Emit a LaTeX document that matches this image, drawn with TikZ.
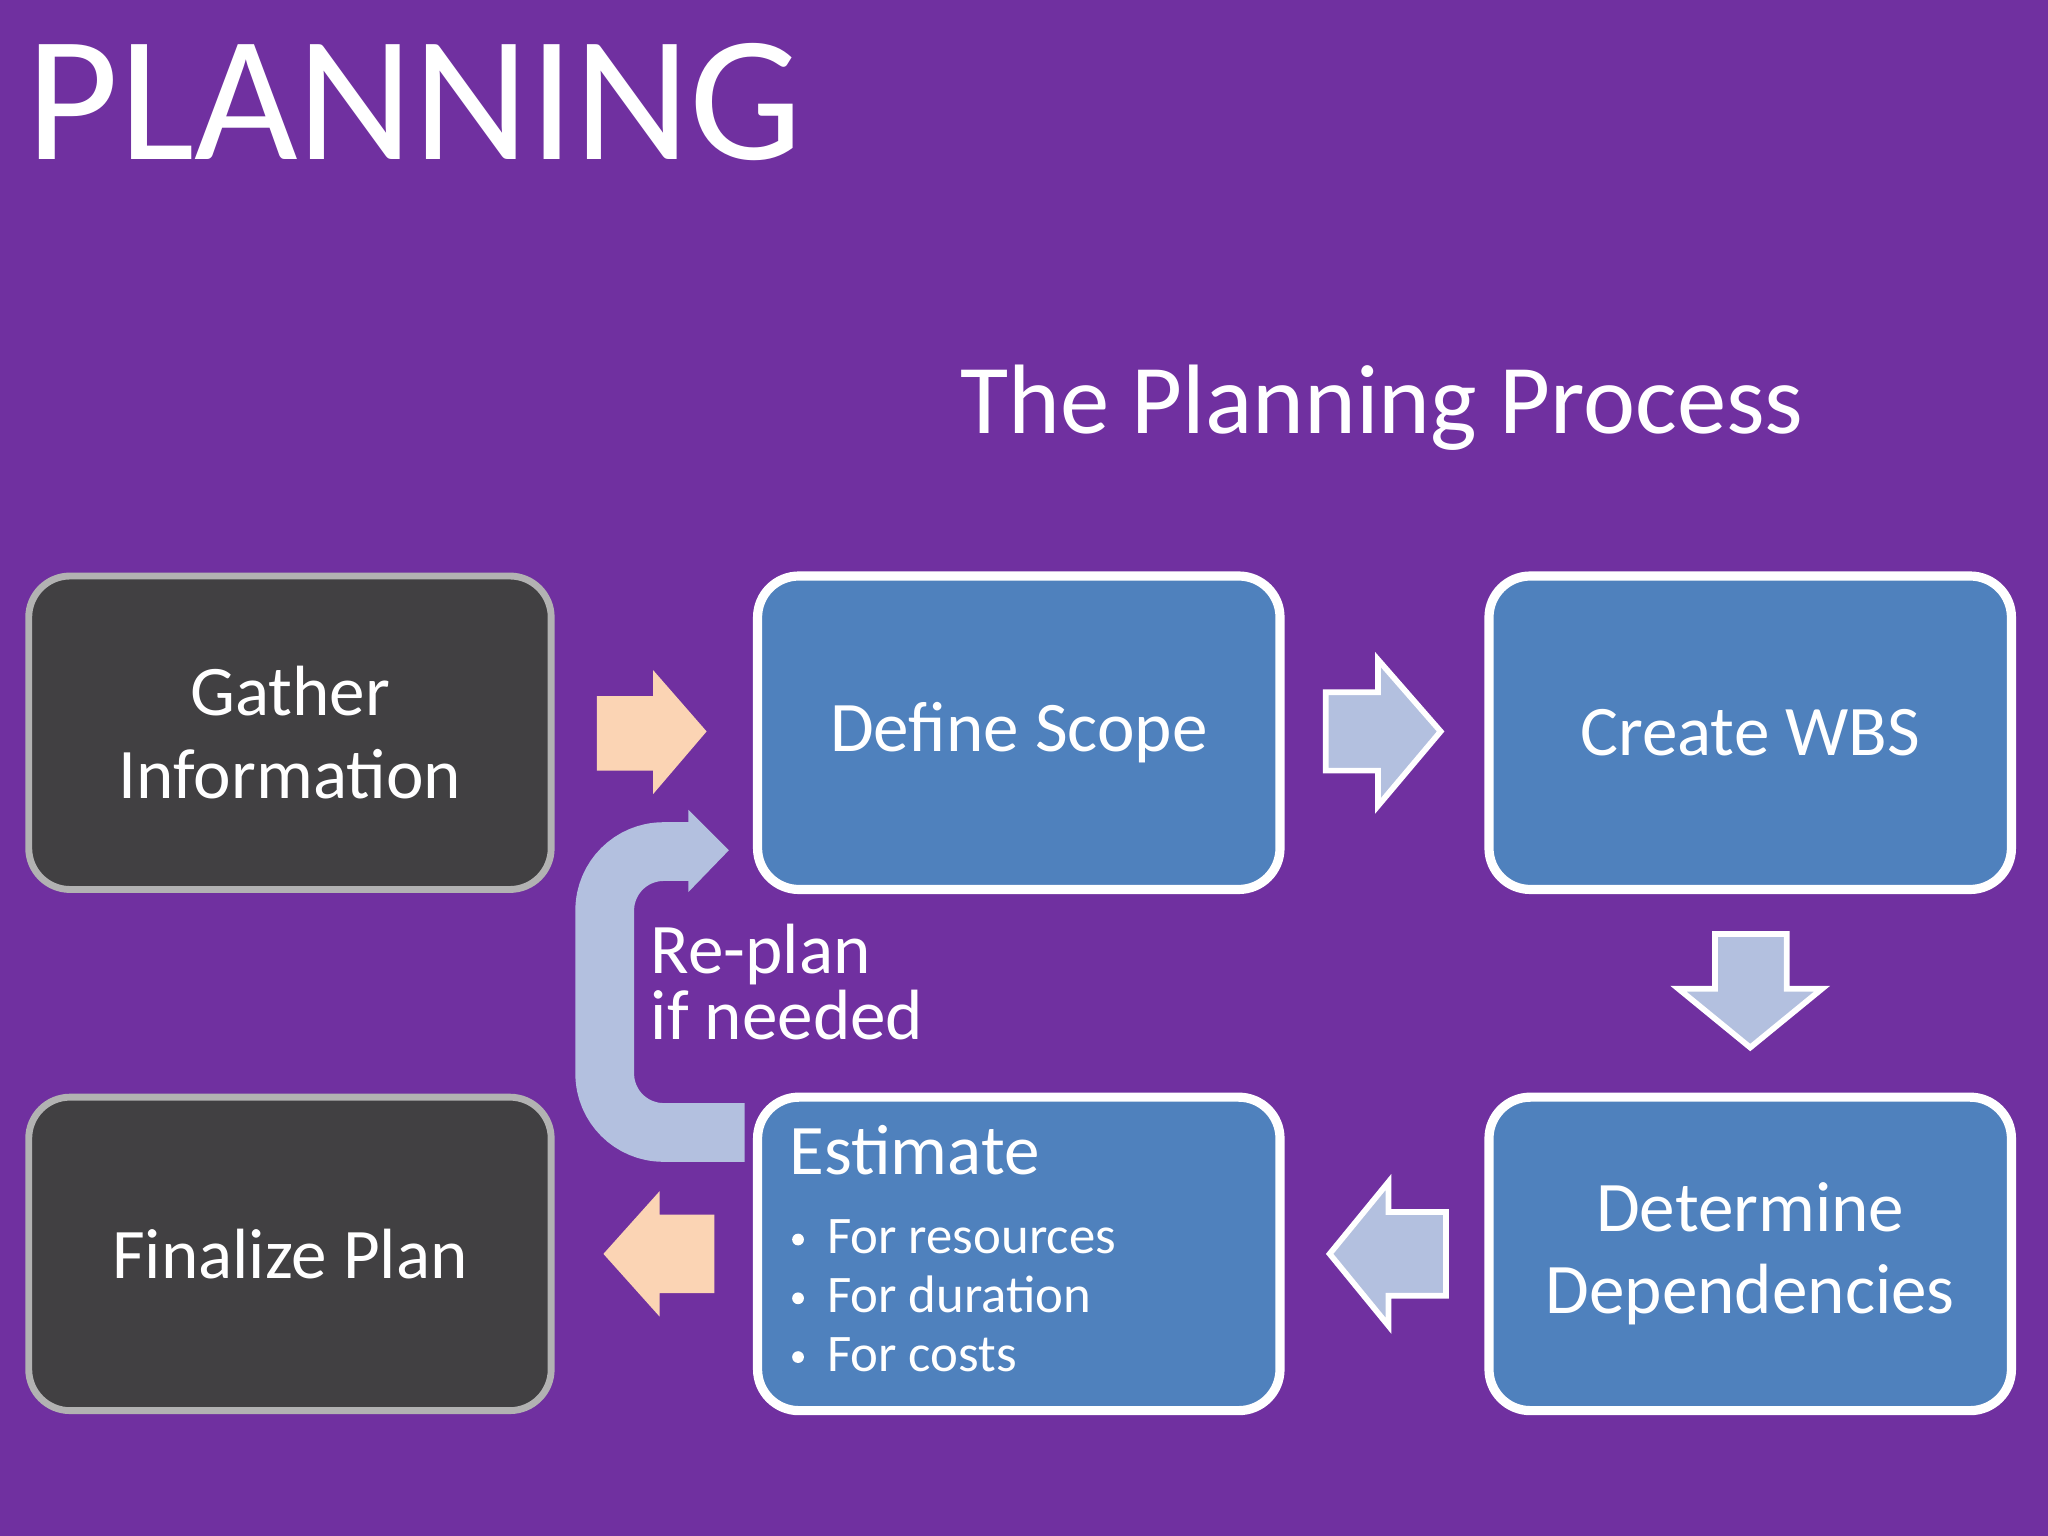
\documentclass[tikz,border=0pt]{standalone}
\usepackage{fontspec}
\setmainfont{Carlito}
\definecolor{bg}{HTML}{7030A0}
\definecolor{dark}{HTML}{414042}
\definecolor{blu}{HTML}{4F81BD}
\definecolor{peach}{HTML}{FBD4B4}
\definecolor{lav}{HTML}{B3C0DF}
\begin{document}
\begin{tikzpicture}[x=0.02cm,y=-0.02cm,
 darkbox/.style={fill=dark,draw=gray!60,line width=3pt,rounded corners=18pt},
 bluebox/.style={fill=blu,draw=white,line width=4pt,rounded corners=18pt},
 lbl/.style={text=white,font=\fontsize{31}{36}\selectfont,align=center},
 peachar/.style={fill=peach},
 lavar/.style={fill=lav,draw=white,line width=2.5pt}]
\fill[bg] (0,0) rectangle (1568,1176);
\useasboundingbox (0,0) rectangle (1568,1176);
\node[text=white,anchor=base west,font=\fontsize{78}{80}\selectfont,inner sep=0] (title) at (20,122) {PLANNING};
\node[text=white,anchor=base,font=\fontsize{43}{46}\selectfont,inner sep=0] (sub) at (1058,332) {The Planning Process};
% boxes
\draw[darkbox] (22,441) rectangle (422,681);
\draw[bluebox] (580,441) rectangle (980,681);
\draw[bluebox] (1140,441) rectangle (1540,681);
\draw[darkbox] (22,840) rectangle (422,1080);
\draw[bluebox] (580,840) rectangle (980,1080);
\draw[bluebox] (1140,840) rectangle (1540,1080);
\node[lbl] (gather) at (222,561) {Gather\\Information};
\node[lbl] (scope) at (780,561) {Define Scope};
\node[lbl] (wbs) at (1340,561) {Create WBS};
\node[lbl] (dep) at (1340,960) {Determine\\Dependencies};
\node[lbl] (fin) at (222,960) {Finalize Plan};
\node[text=white,anchor=base west,inner sep=0,font=\fontsize{31}{36}\selectfont] (est) at (604,899) {Estimate};
\foreach \y/\t [count=\i] in {960/For resources,1005/For duration,1050/For costs}{
 \fill[white] (611,\y-11) circle (4.5);
 \node[text=white,anchor=base west,inner sep=0,font=\fontsize{23}{26}\selectfont] (b\i) at (633,\y) {\t};}
% arrows
\fill[peachar] (457,533) -- (500,533) -- (500,513) -- (541,560) -- (500,608) -- (500,590) -- (457,590) -- cycle;
\draw[lavar] (1015,530) -- (1055,530) -- (1055,505) -- (1103,560) -- (1055,617) -- (1055,590) -- (1015,590) -- cycle;
\draw[lavar] (1313,715) -- (1368,715) -- (1368,757) -- (1395,757) -- (1340,802) -- (1285,757) -- (1313,757) -- cycle;
\draw[lavar] (1107,928) -- (1063,928) -- (1063,905) -- (1018,960) -- (1063,1015) -- (1063,992) -- (1107,992) -- cycle;
\fill[peachar] (547,930) -- (505,930) -- (505,912) -- (462,960) -- (505,1008) -- (505,990) -- (547,990) -- cycle;
\draw[lav,line width=0.9cm,rounded corners=0.9cm] (570,867) -- (463,867) -- (463,652) -- (530,652);
\fill[lav] (527,620) -- (558,651) -- (527,683) -- cycle;
\node[text=white,anchor=base west,inner sep=0,font=\fontsize{31}{36}\selectfont] (rp) at (498,745) {Re-plan};
\node[text=white,anchor=base west,inner sep=0,font=\fontsize{31}{36}\selectfont] (ifn) at (498,796) {if needed};
\end{tikzpicture}
\end{document}
